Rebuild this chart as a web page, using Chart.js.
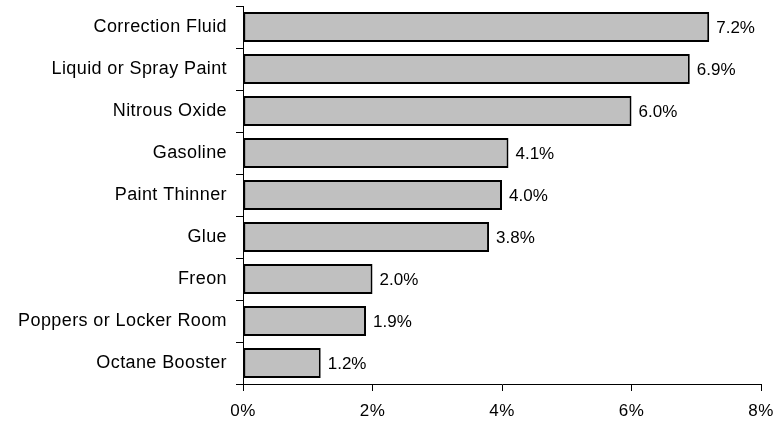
<!DOCTYPE html>
<html>
<head>
<meta charset="utf-8">
<script src="https://cdn.jsdelivr.net/npm/chart.js@4.4.0/dist/chart.umd.min.js"></script>
<style>
  body{margin:0;background:#fff;}
  #wrap{width:777px;height:424px;position:relative;}
</style>
</head>
<body>
<div id="wrap"><canvas id="myChart"></canvas></div>
<script>
var categories=["Correction Fluid","Liquid or Spray Paint","Nitrous Oxide","Gasoline","Paint Thinner","Glue","Freon","Poppers or Locker Room","Octane Booster"];
var percentValues=[7.2,6.9,6.0,4.1,4.0,3.8,2.0,1.9,1.2];
var xTicks=[0,2,4,6,8];

var fontFamily="'Liberation Sans', Arial, sans-serif";

// value labels next to the bar ends
var barLabels={
    id:"barLabels",
    afterDatasetsDraw:function(chart){
        var ctx=chart.ctx;
        var meta=chart.getDatasetMeta(0);
        ctx.save();
        ctx.font="17px "+fontFamily;
        ctx.fillStyle="#000";
        ctx.textAlign="left";
        ctx.textBaseline="middle";
        meta.data.forEach(function(bar,i){
            ctx.fillText(percentValues[i].toFixed(1)+"%",bar.x+7,bar.y+1);
        });
        ctx.restore();
    }
};

// slightly wider spacing for the category names, like the original export
var labelSpacing={
    id:"labelSpacing",
    beforeDraw:function(chart){chart.ctx.letterSpacing="0.4px";},
    beforeDatasetsDraw:function(chart){chart.ctx.letterSpacing="0px";}
};

var ctx=document.getElementById("myChart").getContext("2d");
var myChart=new Chart(ctx,{
    type:"bar",
    data:{
        labels:categories,
        datasets:[
            {
                data:percentValues,
                backgroundColor:"#c0c0c0",
                borderColor:"#000",
                borderWidth:2,
                borderSkipped:false,
                barPercentage:0.72,
                categoryPercentage:1
            }
        ]
    },
    options:{
        indexAxis:"y",
        responsive:true,
        maintainAspectRatio:false,
        animation:false,
        layout:{padding:{top:6,right:16,left:0,bottom:0}},
        plugins:{legend:{display:false},tooltip:{enabled:false}},
        scales:{
            x:{
                min:0,
                max:8,
                afterBuildTicks:function(scale){
                    scale.ticks=xTicks.map(function(v){return {value:v};});
                },
                afterFit:function(scale){
                    scale.height=40;
                    scale.paddingLeft=0;
                    scale.paddingRight=0;
                },
                border:{color:"#000",width:1},
                grid:{drawOnChartArea:false,color:"#000",tickLength:7},
                ticks:{
                    color:"#000",
                    padding:10,
                    maxRotation:0,
                    font:{family:fontFamily,size:17},
                    callback:function(v){return v+"%";}
                }
            },
            y:{
                afterFit:function(scale){
                    scale.width=243;
                    scale.paddingTop=0;
                    scale.paddingBottom=0;
                },
                border:{color:"#000",width:1},
                grid:{drawOnChartArea:false,color:"#000",tickLength:7,offset:true},
                ticks:{
                    color:"#000",
                    padding:9,
                    font:{family:fontFamily,size:18}
                }
            }
        }
    },
    plugins:[labelSpacing,barLabels]
});
</script>
</body>
</html>
